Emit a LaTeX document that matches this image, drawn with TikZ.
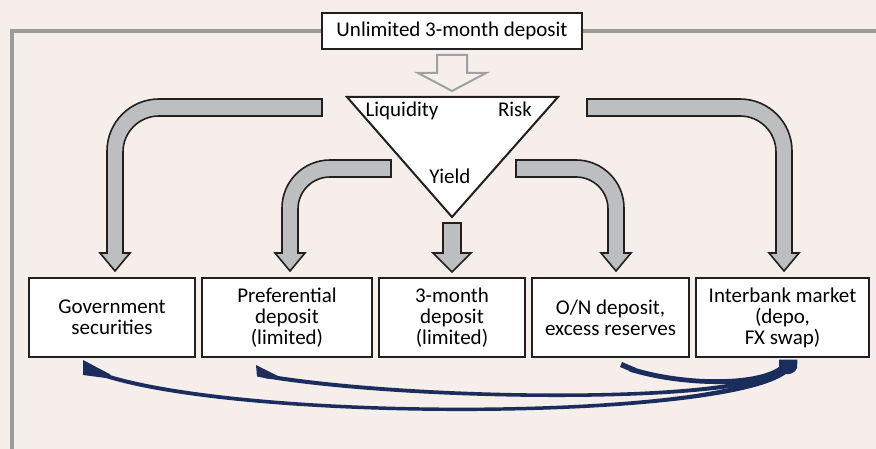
\documentclass[tikz,border=0pt]{standalone}
\usepackage{fontspec}
\setmainfont{Carlito}
\definecolor{bgc}{RGB}{245,238,235}
\definecolor{framegray}{RGB}{155,155,155}
\definecolor{hollowgray}{RGB}{160,160,160}
\definecolor{arrowfill}{RGB}{188,190,192}
\definecolor{inkc}{RGB}{35,31,32}
\definecolor{navy}{RGB}{27,45,92}
\begin{document}
\begin{tikzpicture}[x=1pt,y=-1pt,
  txt/.style={font=\fontsize{21}{21}\selectfont},
  boxnode/.style={draw=inkc, line width=2pt, fill=white, inner sep=0pt,
    minimum height=79, align=center, font=\fontsize{21}{21}\selectfont},
  framestyle/.style={draw=framegray, line width=3.5pt},
  hollow/.style={draw=hollowgray, line width=2pt, line join=miter},
  grayarrow/.style={fill=arrowfill, draw=inkc, line width=1.6pt, line join=miter},
  navyfill/.style={fill=navy, draw=none}]
\useasboundingbox (0,0) rectangle (876,449);
\fill[bgc] (0,0) rectangle (876,449);

% frame
\coordinate (frTR) at (876,31);
\coordinate (frC) at (12,31);
\coordinate (frB) at (12,449);
\draw[framestyle] (frTR) -- (frC) -- (frB);

% top box
\node[draw=inkc, line width=2pt, fill=white, inner sep=0pt, minimum width=260,
  minimum height=36, txt] (unl) at (452,31) {Unlimited 3-month deposit};

% hollow arrow
\draw[hollow] (437,55) -- (467,55) -- (467,73) -- (486,73) -- (452,91)
  -- (418,73) -- (437,73) -- cycle;

% triangle
\draw[fill=white, draw=inkc, line width=2pt, line join=miter] (347,97) -- (558,97) -- (452,217) -- cycle;
\node[txt, anchor=base] (liq) at (402,117) {Liquidity};
\node[txt, anchor=base] (risk) at (515,117) {Risk};
\node[txt, anchor=base] (yield) at (450,183.5) {Yield};

% boxes
\node[boxnode, minimum width=166] (gov) at (112,317.5) {Government\\securities};
\node[boxnode, minimum width=170] (pref) at (287,317.5) {Preferential\\deposit\\(limited)};
\node[boxnode, minimum width=146] (three) at (452,317.5) {3-month\\deposit\\(limited)};
\node[boxnode, minimum width=157] (on) at (610.5,317.5) {O/N deposit,\\excess reserves};
\node[boxnode, minimum width=173] (ib) at (782.5,317.5) {Interbank market\\(depo,\\FX swap)};

% gray arrows
\draw[grayarrow] (322,99) -- (159,99) .. controls (130.3,99) and (107,122.3) .. (107,151)
  -- (107,253) -- (100,253) -- (115,271) -- (130,253) -- (123,253) -- (123,152)
  .. controls (123,132.1) and (139.1,116) .. (159,116) -- (322,116) -- cycle;
\draw[grayarrow] (391,160) -- (330,160) .. controls (303.5,160) and (282,181.5) .. (282,208)
  -- (282,253) -- (275,253) -- (290,271) -- (305,253) -- (298,253) -- (298,209)
  .. controls (298,191.3) and (312.3,177) .. (330,177) -- (391,177) -- cycle;
\draw[grayarrow] (443,223) -- (461,223) -- (461,253) -- (471,253) -- (452,272)
  -- (433,253) -- (443,253) -- cycle;
\draw[grayarrow] (516,160) -- (576,160) .. controls (602.5,160) and (624,181.5) .. (624,208)
  -- (624,253) -- (631,253) -- (616,271) -- (601,253) -- (608,253) -- (608,209)
  .. controls (608,191.3) and (593.7,177) .. (576,177) -- (516,177) -- cycle;
\draw[grayarrow] (587,99) -- (740,99) .. controls (768.7,99) and (792,122.3) .. (792,151)
  -- (792,253) -- (799,253) -- (784,271) -- (769,253) -- (776,253) -- (776,152)
  .. controls (776,132.1) and (759.9,116) .. (740,116) -- (587,116) -- cycle;

% navy curved arrows
% to Government securities
\fill[navyfill] (783.2,362.5) .. controls (765.2,418.5) and (250.6,423.1) .. (100.6,372.1)
  -- (99.4,375.9) .. controls (249.4,426.9) and (774.8,421.5) .. (792.8,365.5) -- cycle;
\fill[navyfill] (83,360) -- (110.5,374.5) -- (106,378) -- (83,375) -- cycle;
% to Preferential deposit
\fill[navyfill] (783.2,362.5) .. controls (770.2,403.5) and (420.3,400.0) .. (265.3,374.0)
  -- (264.7,378.0) .. controls (419.7,404.0) and (779.8,406.5) .. (792.8,365.5) -- cycle;
\fill[navyfill] (256,365) -- (279.5,376.8) -- (270,379) -- (257,376.5) -- cycle;
% to O/N deposit
\fill[navyfill] (784.2,361.6) .. controls (771.2,382.6) and (690.8,385.6) .. (630.8,366.6)
  -- (629.2,371.4) .. controls (689.2,390.4) and (778.8,387.4) .. (791.8,366.4) -- cycle;
\fill[navyfill] (622,362) -- (636,368) -- (633,372.5) -- (620,367) -- cycle;
% start blob
\fill[navyfill] (779,359.5) -- (797.5,359.5) -- (797,368) .. controls (795,373) and (790,375) .. (784,374) -- (779,366) -- cycle;
\end{tikzpicture}
\end{document}
